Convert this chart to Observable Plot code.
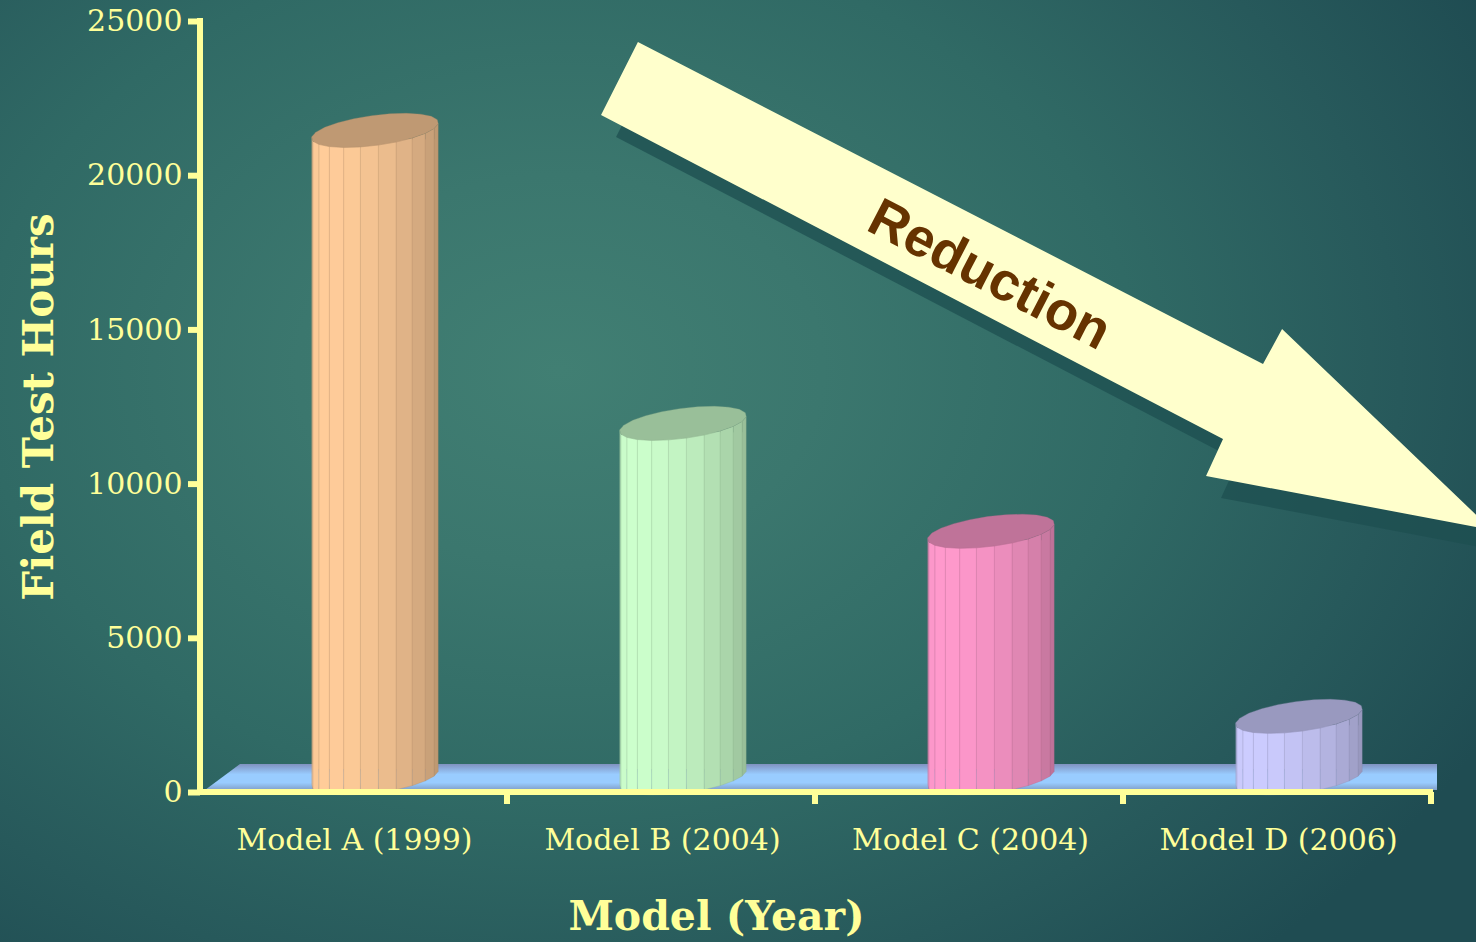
<!DOCTYPE html>
<html>
<head>
<meta charset="utf-8">
<script src="https://cdn.jsdelivr.net/npm/d3@7"></script>
<script src="https://cdn.jsdelivr.net/npm/@observablehq/plot@0.6"></script>
<style>
  html, body { margin: 0; padding: 0; width: 1476px; height: 942px; overflow: hidden; }
  body {
    background: radial-gradient(ellipse 1050px 780px at 560px 370px,
      #417f73 0%, #3b776e 25%, #306a65 55%, #27595b 80%, #1f4c52 100%);
  }
  #chart svg { display: block; overflow: hidden; }
  #chart g[aria-label="y-axis tick"] { stroke-width: 6px; }
  #chart g[aria-label="y-axis"] .tick line { stroke-width: 6px; }
</style>
</head>
<body>
<div id="chart"></div>
<script>
// ---- data ----
const models = ["Model A (1999)", "Model B (2004)", "Model C (2004)", "Model D (2006)"];
const hours = [21000, 11500, 8000, 2000];
const barColors = ["#ffcc99", "#ccffcc", "#ff99cc", "#ccccff"];
const yTicks = [0, 5000, 10000, 15000, 20000, 25000];
const yTitle = "Field Test Hours";
const xTitle = "Model (Year)";
const arrowLabel = "Reduction";

const data = models.map((m, i) => ({model: m, hours: hours[i], color: barColors[i]}));

// ---- styling constants ----
const W = 1476, H = 942;
const INK = "#ffff99";
const SHIFT = 21;     // horizontal offset of cylinders within band (3D depth)
const LIFT = 14;      // vertical lift of cylinder centre line (3D depth)
const RX = 64, RY = 15, TILT = -7.5 * Math.PI / 180, N = 22, PHASE = 0.12;
const LIGHT = 140 * Math.PI / 180;

const shade = (c, f) => { const r = d3.rgb(c); return d3.rgb(r.r * f, r.g * f, r.b * f).formatHex(); };

function floorMark(index, {x, y}) {
  const [x0, x1] = x.range();
  const y0 = y(0);
  const g = d3.create("svg:g").attr("aria-label", "floor");
  const grad = g.append("defs").append("linearGradient")
    .attr("id", "floorGrad").attr("x1", 0).attr("y1", 0).attr("x2", 0).attr("y2", 1);
  [[0, "#7f92c0"], [0.4, "#99ccff"], [0.72, "#99ccff"], [1, "#809fc9"]]
    .forEach(([o, c]) => grad.append("stop").attr("offset", o).attr("stop-color", c));
  g.append("path")
    .attr("d", `M${x0 + 5},${y0 - 2}L${x0 + 40},${y0 - 28}L${x1 + 5},${y0 - 28}L${x1 + 5},${y0 - 2}Z`)
    .attr("fill", "url(#floorGrad)");
  return g.node();
}

function cylinderMark(index, {x, y}) {
  const bw = x.bandwidth ? x.bandwidth() : (x.range()[1] - x.range()[0]) / models.length;
  const g = d3.create("svg:g").attr("aria-label", "cylinders");
  models.forEach((m, i) => {
    const base = barColors[i];
    const cx = x(m) + bw / 2 + SHIFT;
    const ty = y(hours[i]) - LIFT, by = y(0) - LIFT;
    const ring = d3.range(N + 1).map(k => {
      const t = PHASE + k * 2 * Math.PI / N;
      const ex = RX * Math.cos(t), ey = RY * Math.sin(t);
      return {t, x: ex * Math.cos(TILT) - ey * Math.sin(TILT), y: ex * Math.sin(TILT) + ey * Math.cos(TILT)};
    });
    for (let k = 0; k < N; k++) {
      const a = ring[k], b = ring[k + 1];
      if (b.x >= a.x) continue;
      const tm = (a.t + b.t) / 2;
      const f = 0.68 + 0.32 * (Math.cos(tm - LIGHT) + 1) / 2;
      g.append("path")
        .attr("d", `M${cx + a.x},${ty + a.y}L${cx + b.x},${ty + b.y}L${cx + b.x},${by + b.y}L${cx + a.x},${by + a.y}Z`)
        .attr("fill", shade(base, f))
        .attr("stroke", shade(base, 0.62)).attr("stroke-opacity", 0.28).attr("stroke-width", 0.8);
    }
    g.append("path")
      .attr("d", "M" + ring.slice(0, N).map(p => `${cx + p.x},${ty + p.y}`).join("L") + "Z")
      .attr("fill", shade(base, 0.75))
      .attr("stroke", shade(base, 0.68)).attr("stroke-opacity", 0.4).attr("stroke-width", 0.8);
  });
  return g.node();
}

function axisLinesMark(index, {x, y}) {
  const [x0, x1] = x.range();
  const bw = x.bandwidth ? x.bandwidth() : (x1 - x0) / models.length;
  const y0 = y(0), yTop = y(yTicks[yTicks.length - 1]);
  const g = d3.create("svg:g").attr("aria-label", "axis lines")
    .attr("stroke", INK).attr("stroke-width", 6).attr("fill", "none");
  g.append("path").attr("d", `M${x0},${yTop - 3}L${x0},${y0 + 3}`);
  g.append("path").attr("d", `M${x0 - 3},${y0}L${x1 + 1},${y0}`);
  models.forEach(m => {
    const xb = x(m) + bw - 1;
    g.append("path").attr("d", `M${xb},${y0}L${xb},${y0 + 12}`);
  });
  return g.node();
}

function arrowMark(index, scales, values, dims) {
  const w = (dims && dims.width) || W, h = (dims && dims.height) || H;
  // arrow outline as fractions of the canvas (annotation, not data)
  const shape = [[0.4322, 0.0446], [0.8557, 0.3864], [0.8686, 0.3493], [1.0108, 0.5626],
                 [0.8171, 0.5053], [0.8286, 0.4660], [0.4072, 0.1221]];
  const pts = shape.map(([fx, fy]) => [fx * w, fy * h]);
  const d = "M" + pts.map(p => p.join(",")).join("L") + "Z";
  const g = d3.create("svg:g").attr("aria-label", "reduction arrow");
  g.append("path").attr("d", d).attr("fill", "#1d4f50").attr("fill-opacity", 0.75)
    .attr("transform", "translate(15,22)");
  g.append("path").attr("d", d).attr("fill", "#ffffcc");
  g.append("text")
    .attr("transform", `translate(${0.6710 * w},${0.2900 * h}) rotate(27.4)`)
    .attr("text-anchor", "middle").attr("dy", "0.35em")
    .attr("font-family", "'Liberation Sans', Arial, sans-serif")
    .attr("font-weight", "bold").attr("font-size", 54)
    .attr("fill", "#663300")
    .text(arrowLabel);
  return g.node();
}

const chart = Plot.plot({
  width: W,
  height: H,
  marginLeft: 200,
  marginRight: 44,
  marginTop: 21,
  marginBottom: 150,
  style: {background: "transparent", color: INK, fontFamily: "'DejaVu Serif', serif", fontSize: "30px"},
  x: {domain: models, padding: 0, label: null, tickSize: 0, tickPadding: 36},
  y: {domain: [0, 25000], ticks: yTicks, tickSize: 12, tickPadding: 6, label: null, tickFormat: d => String(d)},
  color: {type: "identity"},
  marks: [
    floorMark,
    Plot.barY(data, {x: "model", y: "hours", fill: "color", insetLeft: 93, insetRight: 93,
      insetTop: 9, insetBottom: 9, dx: SHIFT, dy: -LIFT}),
    cylinderMark,
    axisLinesMark,
    arrowMark,
    Plot.text([yTitle], {text: d => d, frameAnchor: "left", dx: -161, rotate: -90, fontSize: 42,
      textAnchor: "middle", lineAnchor: "middle",
      fontWeight: "bold", fontFamily: "'DejaVu Serif', serif", fill: INK}),
    Plot.text([xTitle], {text: d => d, frameAnchor: "bottom", dx: -100, dy: 124, fontSize: 41,
      textAnchor: "middle", lineAnchor: "middle",
      fontWeight: "bold", fontFamily: "'DejaVu Serif', serif", fill: INK})
  ]
});
document.getElementById("chart").append(chart);
</script>
</body>
</html>
